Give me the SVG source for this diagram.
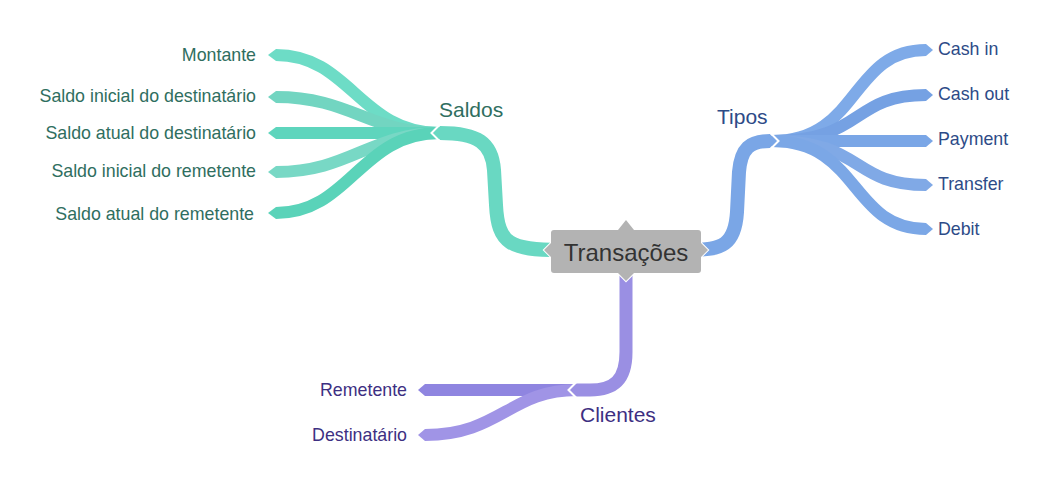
<svg xmlns="http://www.w3.org/2000/svg" width="1050" height="495" viewBox="0 0 1050 495">
<style>
.rib{fill:none;stroke-linecap:butt}
.t{font-family:"Liberation Sans",Arial,sans-serif;font-size:17.8px}
.h{font-size:21px}
.sal{fill:#2f6e60}
.tip{fill:#2d4b87}
.cli{fill:#3d2f82}
.cut{fill:none;stroke:#fff;stroke-width:2}
</style>
<rect width="1050" height="495" fill="#fff"/>
<g id="connectors">
  <g stroke-width="12" class="rib">
    <path d="M440 133 C360 133 350 55 276 55" stroke="#6ddcc6"/>
    <path d="M440 133 C370 133 350 97 276 97" stroke="#72d5c1"/>
    <path d="M440 133 L276 133" stroke="#5ed5bd"/>
    <path d="M440 133 C370 133 350 172 276 172" stroke="#78d8c5"/>
    <path d="M440 133 C360 133 350 213 276 213" stroke="#5ad3b9"/>
  </g>
  <polygon points="276,49 268,55 276,61" fill="#6ddcc6"/>
  <polygon points="276,91 268,97 276,103" fill="#72d5c1"/>
  <polygon points="276,127 268,133 276,139" fill="#5ed5bd"/>
  <polygon points="276,166 268,172 276,178" fill="#78d8c5"/>
  <polygon points="276,207 268,213 276,219" fill="#5ad3b9"/>
  <path class="rib" d="M560 250 C510 250 498 244 496 205 L494 170 C492 143 478 133 440 133" stroke="#69d8c2" stroke-width="14"/>
  <polygon points="440,126 433,133 440,140" fill="#69d8c2"/>
  <polyline class="cut" points="440,124.5 431.5,133 440,141.5"/>

  <g stroke-width="12" class="rib">
    <path d="M772 141 C860 141 850 50 926 50" stroke="#7eaae8"/>
    <path d="M772 141 C865 141 850 95 926 95" stroke="#75a1e3"/>
    <path d="M772 141 L926 141" stroke="#7aa6e6"/>
    <path d="M772 141 C865 141 850 185 926 185" stroke="#80a9e6"/>
    <path d="M772 141 C860 141 850 229 926 229" stroke="#7ba7e6"/>
  </g>
  <polygon points="926,44 933,50 926,56" fill="#7eaae8"/>
  <polygon points="926,89 933,95 926,101" fill="#75a1e3"/>
  <polygon points="926,135 933,141 926,147" fill="#7aa6e6"/>
  <polygon points="926,179 933,185 926,191" fill="#80a9e6"/>
  <polygon points="926,223 933,229 926,235" fill="#7ba7e6"/>
  <path class="rib" d="M690 250 C722 250 735 245 737 212 L739 172 C741 148 750 141 770 141" stroke="#7aa6e6" stroke-width="14"/>
  <polygon points="770,134 777,141 770,148" fill="#7aa6e6"/>
  <polyline class="cut" points="770,132.5 778.5,141 770,149.5"/>

  <g stroke-width="12" class="rib">
    <path d="M577 390 L425 390" stroke="#8f85e0"/>
    <path d="M577 390 C510 390 500 435 425 435" stroke="#a094e6"/>
  </g>
  <polygon points="425,384 418,390 425,396" fill="#8f85e0"/>
  <polygon points="425,429 418,435 425,441" fill="#a094e6"/>
  <path class="rib" d="M626 262 L626 352 C626 380 614 390 590 390 L577 390" stroke="#9a8fe3" stroke-width="13"/>
  <polygon points="577,383 570,390 577,397" fill="#9a8fe3"/>
  <polyline class="cut" points="577,381.5 568.5,390 577,398.5"/>
</g>
<g id="n-center">
  <path d="M554 230 L618 230 L626 220 L634 230 L698 230 Q701 230 701 233 L701 243 L708 250 L701 257 L701 270 Q701 273 698 273 L634 273 L626 281 L618 273 L554 273 Q551 273 551 270 L551 257 L544 250 L551 243 L551 233 Q551 230 554 230 Z" fill="#b3b3b3" stroke="#fff" stroke-width="2" paint-order="stroke"/>
  <text x="626" y="261" text-anchor="middle" font-family="Liberation Sans, Arial, sans-serif" font-size="24" fill="#333">Transações</text>
</g>
<g id="n-saldos"><text x="439" y="117" class="t h sal">Saldos</text></g>
<g id="n-montante"><text x="256" y="61" class="t sal" text-anchor="end">Montante</text></g>
<g id="n-sid"><text x="256" y="102" class="t sal" text-anchor="end">Saldo inicial do destinatário</text></g>
<g id="n-sad"><text x="256" y="139" class="t sal" text-anchor="end">Saldo atual do destinatário</text></g>
<g id="n-sir"><text x="256" y="177" class="t sal" text-anchor="end">Saldo inicial do remetente</text></g>
<g id="n-sar"><text x="254" y="220" class="t sal" text-anchor="end">Saldo atual do remetente</text></g>
<g id="n-tipos"><text x="717" y="124" class="t h tip">Tipos</text></g>
<g id="n-cashin"><text x="938" y="55" class="t tip">Cash in</text></g>
<g id="n-cashout"><text x="938" y="100" class="t tip">Cash out</text></g>
<g id="n-payment"><text x="938" y="145" class="t tip">Payment</text></g>
<g id="n-transfer"><text x="938" y="190" class="t tip">Transfer</text></g>
<g id="n-debit"><text x="938" y="235" class="t tip">Debit</text></g>
<g id="n-clientes"><text x="580" y="422" class="t h cli">Clientes</text></g>
<g id="n-remetente"><text x="407" y="396" class="t cli" text-anchor="end">Remetente</text></g>
<g id="n-destinatario"><text x="407" y="441" class="t cli" text-anchor="end">Destinatário</text></g>
</svg>
